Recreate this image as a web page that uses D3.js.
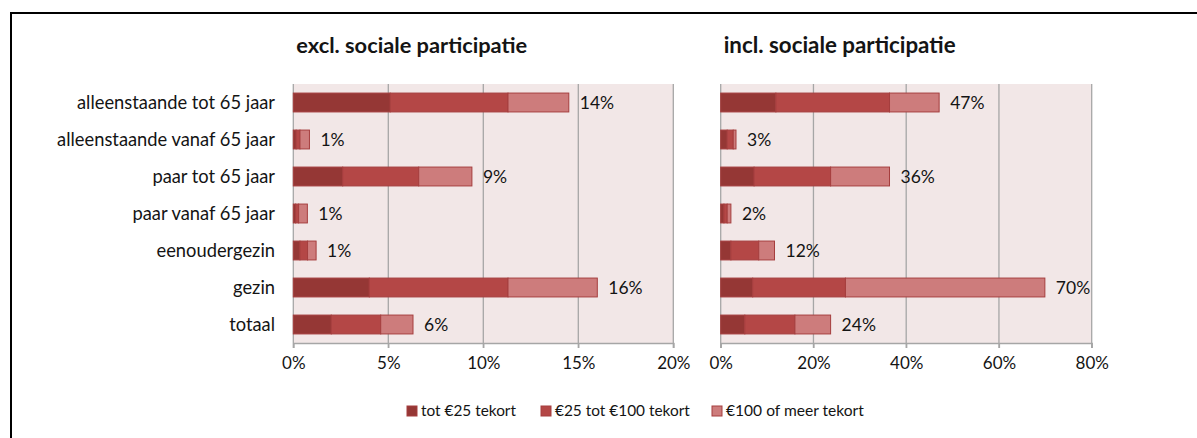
<!DOCTYPE html>
<html>
<head>
<meta charset="utf-8">
<script src="https://cdn.jsdelivr.net/npm/d3@7"></script>
<style>
  html, body { margin: 0; padding: 0; background: #fff; }
  svg { display: block; }
  text { font-family: Lato, "Open Sans", sans-serif; fill: #141414; }
</style>
</head>
<body>
<svg id="chart" width="1197" height="438"></svg>
<script>
const categories = ["alleenstaande tot 65 jaar", "alleenstaande vanaf 65 jaar", "paar tot 65 jaar",
  "paar vanaf 65 jaar", "eenoudergezin", "gezin", "totaal"];
const seriesNames = ["tot €25 tekort", "€25 tot €100 tekort", "€100 of meer tekort"];

// excl. sociale participatie (percent)
const exclLow  = [5.1, 0.15, 2.6, 0.12, 0.35, 4.0, 2.0];
const exclMid  = [6.2, 0.2, 4.0, 0.16, 0.4, 7.3, 2.6];
const exclHigh = [3.2, 0.5, 2.8, 0.46, 0.45, 4.7, 1.7];
const exclLabels = ["14%", "1%", "9%", "1%", "1%", "16%", "6%"];
const exclTicks = [0, 5, 10, 15, 20];

// incl. sociale participatie (percent)
const inclLow  = [11.9, 1.4, 7.2, 0.7, 2.2, 6.9, 5.2];
const inclMid  = [24.5, 1.3, 16.5, 0.7, 6.0, 20.0, 10.8];
const inclHigh = [10.7, 0.6, 12.7, 0.8, 3.4, 43.0, 7.7];
const inclLabels = ["47%", "3%", "36%", "2%", "12%", "70%", "24%"];
const inclTicks = [0, 20, 40, 60, 80];

const titles = ["excl. sociale participatie", "incl. sociale participatie"];

const colors = ["#953735", "#B44746", "#CD7C7C"];
const strokeColor = "#A53E3E";

const svg = d3.select("#chart");

// outer frame (top and left lines)
svg.append("line").attr("x1", 10).attr("x2", 1197).attr("y1", 13).attr("y2", 13)
  .attr("stroke", "#000").attr("stroke-width", 2);
svg.append("line").attr("x1", 11).attr("x2", 11).attr("y1", 12).attr("y2", 438)
  .attr("stroke", "#000").attr("stroke-width", 2);

function fitText(sel, targetW) {
  const w = sel.node().getComputedTextLength();
  const fs = parseFloat(sel.attr("font-size"));
  sel.attr("font-size", (fs * targetW / w).toFixed(2));
}

const plotTop = 84, plotBottom = 343;
const y = d3.scaleBand().domain(categories).range([plotTop, plotBottom]).paddingInner(0.49).paddingOuter(0.245);

function panel(x0, x1, maxV, ticks, low, mid, high, labels, title, titleW) {
  const x = d3.scaleLinear().domain([0, maxV]).range([x0, x1]);
  const g = svg.append("g");
  g.append("rect").attr("x", x0).attr("y", plotTop).attr("width", x1 - x0).attr("height", plotBottom - plotTop)
    .attr("fill", "#F2E7E7");
  // gridlines
  g.selectAll("line.grid").data(ticks).enter().append("line")
    .attr("x1", d => x(d)).attr("x2", d => x(d)).attr("y1", plotTop).attr("y2", plotBottom + 5)
    .attr("stroke", "#A6A6A6").attr("stroke-width", 1.3);
  // bottom axis
  const ax = g.append("g").attr("transform", `translate(0,${plotBottom})`)
    .call(d3.axisBottom(x).tickValues(ticks).tickFormat(d => d + "%").tickSize(5).tickPadding(9));
  ax.select(".domain").attr("stroke", "#A6A6A6").attr("stroke-width", 1.3);
  ax.selectAll(".tick line").attr("stroke", "#A6A6A6").attr("stroke-width", 1.3);
  ax.selectAll(".tick text").attr("font-size", 17).attr("font-family", "Lato").attr("fill", "#141414");

  const stack = d3.stack().keys([0, 1, 2]).value((d, k) => d[k]);
  const rows = categories.map((c, i) => ({ 0: low[i], 1: mid[i], 2: high[i], cat: c }));
  const layers = stack(rows);
  layers.forEach((layer, k) => {
    g.selectAll(null).data(layer).enter().append("rect")
      .attr("x", d => x(d[0])).attr("width", d => x(d[1]) - x(d[0]))
      .attr("y", d => y(d.data.cat)).attr("height", y.bandwidth())
      .attr("fill", colors[k]).attr("stroke", strokeColor).attr("stroke-width", 1);
  });
  const last = layers[2];
  g.selectAll(null).data(last).enter().append("text")
    .attr("x", d => x(d[1]) + 11).attr("y", d => y(d.data.cat) + y.bandwidth() / 2)
    .attr("dy", "0.35em").attr("font-size", 17.5)
    .text((d, i) => labels[i]);

  const t = g.append("text").attr("x", x0 + 3).attr("y", 53).attr("font-size", 18)
    .attr("font-weight", "bold").text(title);
  fitText(t, titleW);
}

panel(293.3, 673.3, 20, exclTicks, exclLow, exclMid, exclHigh, exclLabels, titles[0], 231);
panel(720.7, 1091.7, 80, inclTicks, inclLow, inclMid, inclHigh, inclLabels, titles[1], 232);

// category labels
const catG = svg.append("g");
const catTexts = catG.selectAll(null).data(categories).enter().append("text")
  .attr("x", 275).attr("y", d => y(d) + y.bandwidth() / 2).attr("dy", "0.35em")
  .attr("text-anchor", "end").attr("font-size", 15).text(d => d);
// scale to match reference width of the longest label
const longest = catTexts.filter((d, i) => i === 1);
const lw = longest.node().getComputedTextLength();
catTexts.attr("font-size", (15 * 218 / lw).toFixed(2));

// legend
const legX = [407, 541, 712];
const legW = [95, 135, 138];
const lg = svg.append("g");
seriesNames.forEach((s, i) => {
  lg.append("rect").attr("x", legX[i]).attr("y", 406).attr("width", 10).attr("height", 10)
    .attr("fill", colors[i]).attr("stroke", strokeColor).attr("stroke-width", 1);
  const t = lg.append("text").attr("x", legX[i] + 14).attr("y", 411).attr("dy", "0.35em")
    .attr("font-size", 15).text(s);
  fitText(t, legW[i]);
});
</script>
</body>
</html>
